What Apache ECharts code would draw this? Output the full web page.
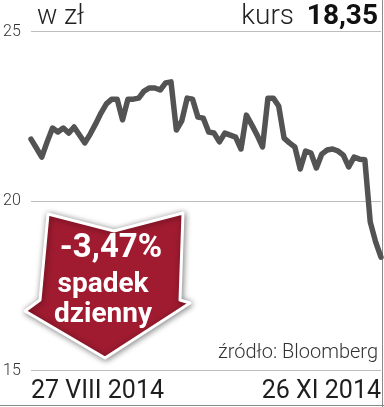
<!DOCTYPE html>
<html><head><meta charset="utf-8">
<script src="https://cdn.jsdelivr.net/npm/echarts@6/dist/echarts.min.js"></script>
<style>html,body{margin:0;padding:0;background:#fff}#c{width:384px;height:407px}</style>
</head><body><div id="c"></div>
<script>
// Daily closing prices (zł), 27 VIII 2014 – 26 XI 2014
const prices = [
  21.83, 21.57, 21.30, 21.75, 22.16, 22.04, 22.16, 22.01, 22.19, 21.95,
  21.72, 21.98, 22.28, 22.60, 22.87, 23.01, 23.01, 22.40, 23.01, 23.01,
  23.04, 23.25, 23.34, 23.34, 23.28, 23.49, 23.52, 22.10, 22.37, 23.04,
  23.01, 22.48, 22.45, 22.04, 22.01, 21.75, 22.01, 21.95, 21.89, 21.54,
  22.54, 22.25, 21.95, 21.60, 23.04, 23.04, 22.81, 21.86, 21.72, 21.60,
  20.95, 21.48, 21.42, 20.98, 21.39, 21.51, 21.54, 21.48, 21.36, 21.01,
  21.30, 21.24, 21.22, 19.39, 18.80, 18.35
];
const dateLabels = ['27 VIII 2014', '26 XI 2014'];
const yTicks = [15, 20, 25];
const unitLabel = 'w zł';
const kursLabel = 'kurs';
const lastPrice = '18,35';
const changeLabel = '-3,47%';
const changeText = ['spadek', 'dzienny'];
const sourceLabel = 'źródło: Bloomberg';

const categories = prices.map((_, i) =>
  i === 0 ? dateLabels[0] : (i === prices.length - 1 ? dateLabels[1] : ''));

const chart = echarts.init(document.getElementById('c'), null, {renderer: 'canvas'});
const FONT = 'Roboto, "Liberation Sans", sans-serif';

chart.setOption({
  animation: false,
  backgroundColor: '#fff',
  grid: {left: 30, right: 3, top: 31.7, bottom: 36.3},
  xAxis: {
    type: 'category',
    data: categories,
    boundaryGap: false,
    axisLine: {show: false},
    axisTick: {show: false},
    axisLabel: {
      interval: 0,
      margin: 9,
      color: '#1e1e1e',
      fontFamily: FONT,
      fontSize: 25,
      alignMinLabel: 'left',
      alignMaxLabel: 'right',
      hideOverlap: false
    },
    splitLine: {show: false}
  },
  yAxis: {
    type: 'value',
    min: yTicks[0],
    max: yTicks[yTicks.length - 1],
    interval: yTicks[1] - yTicks[0],
    axisLine: {show: false},
    axisTick: {show: false},
    axisLabel: {
      margin: 28,
      align: 'left',
      color: '#333',
      fontFamily: FONT,
      fontSize: 16,
      fontWeight: 300
    },
    splitLine: {lineStyle: {color: '#bdbdbd', width: 1}}
  },
  series: [{
    type: 'line',
    data: prices,
    symbol: 'none',
    lineStyle: {color: '#535353', width: 5.5, join: 'round', cap: 'round'}
  }],
  graphic: [
    {type: 'line', shape: {x1: 382.5, y1: 0, x2: 382.5, y2: 407}, style: {stroke: '#8a8a8a', lineWidth: 1}, silent: true},
    {type: 'line', shape: {x1: 0, y1: 405.5, x2: 384, y2: 405.5}, style: {stroke: '#8a8a8a', lineWidth: 1}, silent: true},
    {type: 'text', left: 37, top: 4, style: {text: unitLabel, fill: '#222', font: '300 27px ' + FONT}},
    {type: 'text', right: 90, top: 3, style: {text: kursLabel, fill: '#222', font: '300 28px ' + FONT}},
    {type: 'text', right: 6, top: 3, style: {text: lastPrice, fill: '#111', font: 'bold 28px ' + FONT}},
    {type: 'text', right: 6, top: 343, style: {text: sourceLabel, fill: '#333', font: '300 20px ' + FONT}},
    {
      type: 'polygon',
      shape: {points: [[48, 214], [114, 231], [183, 213], [180, 300], [190, 303], [105, 358], [25, 311], [40, 300]]},
      style: {fill: '#a01b30', stroke: '#fff', lineWidth: 3, lineJoin: 'round', shadowBlur: 6, shadowColor: 'rgba(0,0,0,0.45)', shadowOffsetX: 1, shadowOffsetY: 1},
      z: 10
    },
    {type: 'text', x: 111, y: 249, z: 11, style: {text: changeLabel, fill: '#fff', font: 'bold 33px ' + FONT, align: 'center', verticalAlign: 'middle'}},
    {type: 'text', x: 103, y: 285, z: 11, style: {text: changeText[0], fill: '#fff', font: 'bold 28px ' + FONT, align: 'center', verticalAlign: 'middle'}},
    {type: 'text', x: 103, y: 315, z: 11, style: {text: changeText[1], fill: '#fff', font: 'bold 28px ' + FONT, align: 'center', verticalAlign: 'middle'}}
  ]
});
</script>
</body></html>
